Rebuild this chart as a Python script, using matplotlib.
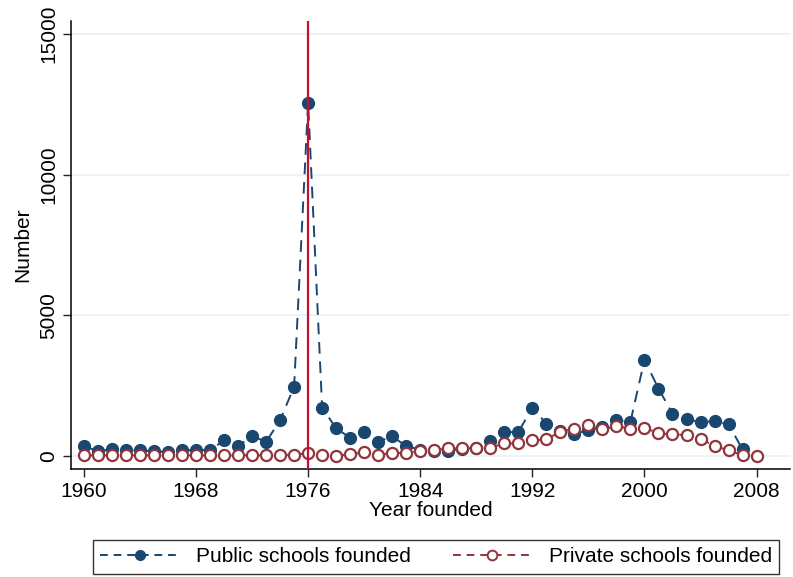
import matplotlib
matplotlib.use("Agg")
import matplotlib.pyplot as plt
from matplotlib.lines import Line2D

plt.rcParams['font.family'] = ['Liberation Sans', 'DejaVu Sans']

years_public = list(range(1960, 2008))
public = [356, 178, 238, 203, 203, 178, 142, 214, 214, 214,
          558, 356, 712, 510, 1271, 2470, 12550, 1722, 986, 653,
          867, 510, 701, 356, 230, 200, 190, 260, 300, 534,
          855, 855, 1722, 1152, 880, 795, 914, 1033, 1271, 1223,
          3420, 2399, 1508, 1306, 1211, 1247, 1128, 238]

years_private = list(range(1960, 2009))
private = [30, 30, 30, 30, 30, 30, 30, 30, 30, 30,
           30, 30, 30, 30, 40, 50, 107, 36, 20, 59,
           142, 36, 119, 107, 178, 214, 273, 273, 297, 297,
           451, 451, 558, 594, 867, 974, 1092, 950, 1069, 974,
           1010, 808, 772, 748, 617, 356, 214, 30, 0]

xticks = [1960, 1968, 1976, 1984, 1992, 2000, 2008]
yticks = [0, 5000, 10000, 15000]
event_year = 1976

navy = '#1a476f'
maroon = '#90353b'
crimson = '#c8102e'

fig = plt.figure(figsize=(7.93, 5.77), dpi=100)
ax = fig.add_axes([0.0895, 0.187, 0.907, 0.777])

for y in yticks:
    ax.axhline(y, color='#eaf2f3', lw=1.3, zorder=0)

ax.plot(years_public, public, color=navy, ls=(0, (6, 4)), lw=1.4,
        marker='o', ms=8.5, mfc=navy, mec=navy, zorder=3)
ax.plot(years_private, private, color=maroon, ls=(0, (6, 4)), lw=1.4,
        marker='o', ms=8, mfc='white', mec=maroon, mew=1.6, zorder=4)
ax.axvline(event_year, color=crimson, lw=1.6, zorder=5)

ax.set_xlim(1959.08, 2010.4)
ax.set_ylim(-460, 15460)
ax.set_xticks(xticks)
ax.set_yticks(yticks)
ax.set_yticklabels([str(v) for v in yticks], rotation=90, va='center')
ax.tick_params(axis='both', labelsize=15, length=6, width=1, direction='out',
               color='#222222', pad=3)
ax.set_xlabel('Year founded', fontsize=15, labelpad=0)
ax.set_ylabel('Number', fontsize=15, labelpad=5)

for side in ['top', 'right']:
    ax.spines[side].set_visible(False)
for side in ['left', 'bottom']:
    ax.spines[side].set_linewidth(1.1)

handles = [
    Line2D([], [], color=navy, ls=(0, (4, 3)), lw=1.4, marker='o', ms=7,
           mfc=navy, mec=navy),
    Line2D([], [], color=maroon, ls=(0, (4, 3)), lw=1.4, marker='o', ms=7,
           mfc='white', mec=maroon, mew=1.4),
]
leg = fig.legend(handles, ['Public schools founded', 'Private schools founded'],
                 loc='lower center', bbox_to_anchor=(0.55, -0.012), ncol=2,
                 fontsize=15, frameon=True, fancybox=False, edgecolor='black',
                 handlelength=3.8, columnspacing=2.0, borderpad=0.35,
                 handletextpad=0.8)
leg.get_frame().set_linewidth(1.0)

fig.savefig('out.png', dpi=100)
